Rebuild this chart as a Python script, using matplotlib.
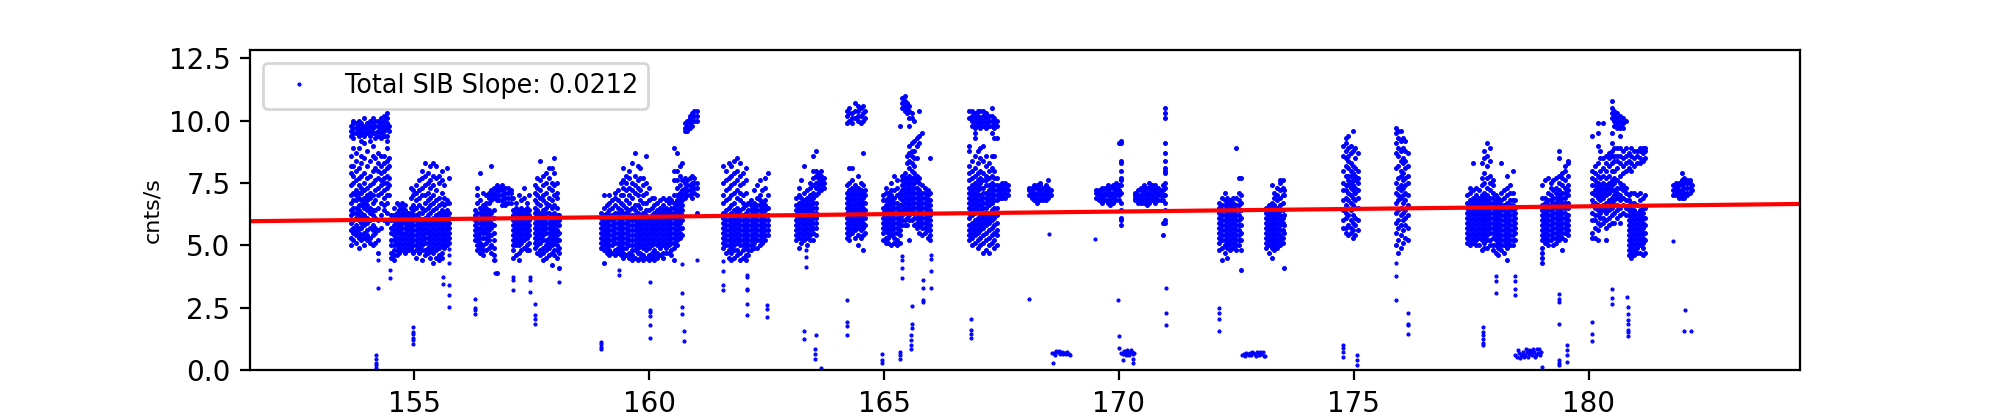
import matplotlib
matplotlib.use('Agg')
import matplotlib.pyplot as plt

# values, one dict per observing block: {time: [rates]}
block_a = {
    153.64: [5.0, 5.3, 5.6, 5.9, 6.2, 6.4, 6.7, 7.0, 7.4, 7.9, 8.2, 8.6, 9.4, 9.6, 9.8],
    153.69: [5.2, 5.5, 5.7, 6.0, 6.3, 6.5, 6.8, 7.1, 7.5, 7.8, 8.2, 8.9, 9.3, 9.5, 9.7, 9.9, 10.0],
    153.75: [5.1, 5.4, 5.6, 5.8, 6.1, 6.3, 6.5, 6.8, 7.0, 7.2, 7.6, 8.0, 8.4, 8.7, 9.5, 9.7, 9.9],
    153.81: [4.9, 5.3, 5.5, 5.7, 6.0, 6.2, 6.4, 6.6, 6.9, 7.1, 7.4, 7.7, 8.1, 8.9, 9.4, 9.6, 9.8, 10.0],
    153.87: [5.2, 5.4, 5.7, 5.9, 6.1, 6.3, 6.6, 6.8, 7.1, 7.3, 7.8, 8.3, 8.6, 9.2, 9.5, 9.7, 9.9],
    153.93: [5.0, 5.3, 5.5, 5.8, 6.0, 6.2, 6.5, 6.7, 6.9, 7.2, 7.5, 7.9, 8.5, 9.1, 9.4, 9.6, 9.8, 10.1],
    153.99: [5.2, 5.4, 5.6, 5.9, 6.1, 6.4, 6.6, 6.8, 7.0, 7.3, 7.7, 8.2, 8.8, 9.5, 9.7, 9.9],
    154.05: [5.1, 5.3, 5.7, 6.0, 6.3, 6.5, 6.9, 7.1, 7.4, 7.8, 8.4, 9.2, 9.4, 9.6, 9.8, 10.0],
    154.11: [5.0, 5.4, 5.6, 5.8, 6.2, 6.4, 6.7, 7.0, 7.5, 8.0, 8.6, 9.0, 9.5, 9.7, 9.9, 10.1],
    154.17: [5.1, 5.5, 5.7, 6.1, 6.4, 6.8, 7.2, 7.6, 8.1, 8.5, 9.3, 9.5, 9.8, 10.0],
    154.23: [4.7, 5.2, 5.6, 6.0, 6.5, 7.0, 7.3, 7.7, 8.0, 8.3, 8.7, 9.4, 9.6, 9.8, 10.0],
    154.29: [5.7, 6.2, 6.7, 7.1, 7.4, 7.6, 7.9, 8.2, 8.6, 9.3, 9.5, 9.7, 9.9, 10.1],
    154.35: [6.0, 6.4, 6.6, 6.9, 7.2, 7.5, 7.7, 8.0, 8.3, 8.6, 9.4, 9.6, 9.8, 10.0, 10.2],
    154.41: [5.9, 6.3, 6.7, 7.0, 7.3, 7.5, 7.8, 8.1, 8.4, 8.9, 9.2, 9.4, 9.7, 9.9, 10.1, 10.3],
    154.46: [7.0, 7.4, 7.7, 8.2, 8.5, 9.6, 9.8],
}
block_b = {
    154.50: [4.5, 4.7, 5.0, 5.2, 5.5, 5.7, 6.0, 6.2],
    154.56: [4.4, 4.6, 4.8, 5.0, 5.2, 5.4, 5.6, 5.8, 6.0, 6.2, 6.5],
    154.62: [4.6, 4.8, 5.0, 5.1, 5.3, 5.5, 5.7, 5.9, 6.1, 6.3, 6.7],
    154.68: [4.7, 4.9, 5.1, 5.3, 5.5, 5.6, 5.8, 6.0, 6.2, 6.4, 6.6],
    154.74: [4.8, 5.0, 5.2, 5.4, 5.5, 5.7, 5.9, 6.1, 6.3, 6.5, 6.7],
    154.80: [4.7, 4.9, 5.1, 5.3, 5.5, 5.7, 5.9, 6.0, 6.2, 6.4, 6.6],
    154.86: [4.8, 5.0, 5.2, 5.4, 5.6, 5.8, 6.0, 6.2, 6.3],
    154.92: [4.8, 4.9, 5.1, 5.3, 5.5, 5.7, 5.9, 6.1, 6.3, 6.5, 6.9, 7.3],
    154.98: [4.7, 5.0, 5.2, 5.4, 5.6, 5.8, 6.0, 6.2, 6.4, 6.6, 7.0, 7.2],
    155.04: [4.5, 4.8, 5.0, 5.2, 5.4, 5.6, 5.8, 6.0, 6.2, 6.5, 6.8, 7.1, 7.4],
    155.10: [4.7, 4.9, 5.1, 5.3, 5.5, 5.7, 5.9, 6.1, 6.3, 6.6, 6.9, 7.2, 7.6],
    155.16: [4.4, 4.8, 5.0, 5.2, 5.4, 5.6, 5.8, 6.0, 6.3, 6.5, 7.0, 7.3, 7.7, 8.0],
    155.22: [4.6, 4.8, 5.1, 5.3, 5.5, 5.7, 5.9, 6.1, 6.4, 6.7, 7.0, 7.4, 7.8, 8.3],
    155.28: [4.7, 4.9, 5.1, 5.3, 5.5, 5.6, 5.8, 6.0, 6.2, 6.5, 6.8, 7.1, 7.5, 7.9],
    155.34: [4.5, 4.8, 5.0, 5.2, 5.4, 5.6, 5.8, 6.0, 6.3, 6.6, 6.9, 7.3, 7.6, 8.2],
    155.40: [4.3, 4.7, 4.9, 5.1, 5.3, 5.5, 5.7, 5.9, 6.1, 6.4, 6.7, 7.0, 7.4, 7.8, 8.3],
    155.46: [4.5, 4.8, 5.0, 5.2, 5.4, 5.6, 5.8, 6.0, 6.2, 6.5, 6.8, 7.2, 7.7, 8.2],
    155.52: [4.4, 4.6, 4.9, 5.1, 5.3, 5.5, 5.7, 5.9, 6.1, 6.3, 6.6, 6.9, 7.5, 7.8],
    155.58: [4.5, 4.7, 5.0, 5.2, 5.4, 5.6, 5.8, 6.0, 6.2, 6.4, 6.7, 7.1, 7.6, 8.0],
    155.64: [4.9, 5.1, 5.3, 5.5, 5.7, 5.9, 6.1, 6.3, 6.6, 6.9, 7.4],
    155.69: [5.0, 5.2, 5.4, 5.6, 5.8, 6.0, 6.2, 6.4, 6.7, 6.8, 8.1],
    155.74: [5.1, 5.3, 5.5, 5.7, 5.9, 6.1, 6.3, 6.7, 7.7],
}
block_c = {
    156.29: [5.2, 5.4, 5.6, 5.8, 6.0, 6.2, 6.4],
    156.34: [4.8, 5.0, 5.2, 5.4, 5.6, 5.7, 5.9, 6.1, 6.3, 6.7, 7.0, 7.3],
    156.40: [4.7, 4.9, 5.1, 5.3, 5.5, 5.7, 5.9, 6.1, 6.3, 6.5, 6.8, 7.9],
    156.46: [4.6, 4.8, 5.0, 5.3, 5.5, 5.6, 5.8, 6.0, 6.2, 6.4, 6.6, 7.1],
    156.52: [4.8, 5.1, 5.3, 5.5, 5.7, 5.9, 6.1, 6.3, 6.5, 6.7, 7.0],
    156.58: [4.9, 5.2, 5.4, 5.6, 5.8, 6.0, 6.2, 6.4, 6.7, 6.9, 7.1],
    156.64: [4.7, 5.0, 5.4, 5.7, 5.9, 6.1, 6.3, 6.8, 7.0, 7.2, 8.2],
    156.70: [4.4, 4.6, 4.9, 5.2, 5.5, 5.8, 6.1, 6.4, 6.9, 7.1, 7.3],
    156.75: [3.9, 6.8, 7.0, 7.2, 7.4],
    156.81: [6.8, 7.0, 7.2, 7.3],
    156.87: [6.6, 6.8, 7.0, 7.2, 7.4],
    156.93: [6.6, 6.7, 6.9, 7.1, 7.3],
    156.99: [6.7, 6.9, 7.1, 7.3],
    157.05: [6.7, 6.9, 7.1, 7.2],
}
block_d = {
    157.10: [4.5, 4.8, 5.0, 5.2, 5.4, 5.6, 5.8, 6.0, 6.2, 6.4, 6.9],
    157.16: [4.6, 5.0, 5.1, 5.3, 5.5, 5.7, 5.9, 6.1, 6.3, 6.5, 6.7],
    157.22: [4.4, 4.7, 5.0, 5.2, 5.4, 5.6, 5.8, 6.0, 6.2, 6.4, 7.0],
    157.28: [4.8, 5.1, 5.3, 5.5, 5.7, 5.9, 6.1, 6.3, 6.5, 6.8],
    157.34: [4.9, 5.2, 5.4, 5.6, 5.8, 6.0, 6.2, 6.4, 6.9, 7.3],
    157.40: [4.8, 5.0, 5.3, 5.5, 5.7, 5.9, 6.1, 6.3, 6.5, 6.7],
    157.45: [4.8, 5.1, 5.4, 5.6, 5.8, 6.0, 6.2, 6.4, 7.0],
}
block_e = {
    157.56: [4.9, 5.1, 5.3, 5.5, 5.7, 5.9, 6.1, 6.3, 6.5, 6.8, 7.1, 7.4],
    157.62: [4.7, 5.0, 5.2, 5.4, 5.6, 5.8, 6.0, 6.2, 6.4, 6.7, 7.0, 7.3, 7.7],
    157.68: [4.6, 4.8, 5.1, 5.3, 5.5, 5.7, 5.9, 6.1, 6.3, 6.6, 6.9, 7.2, 7.6, 8.4],
    157.74: [4.4, 4.7, 4.9, 5.2, 5.4, 5.6, 5.8, 6.0, 6.2, 6.4, 6.8, 7.0, 7.4, 7.8],
    157.80: [4.5, 4.8, 5.0, 5.2, 5.5, 5.7, 5.9, 6.1, 6.3, 6.5, 6.7, 7.1, 7.5, 7.9],
    157.86: [4.6, 4.9, 5.1, 5.3, 5.5, 5.7, 5.9, 6.1, 6.3, 6.6, 6.9, 7.3, 7.7, 8.1],
    157.92: [4.2, 4.7, 5.0, 5.2, 5.4, 5.6, 5.8, 6.0, 6.2, 6.5, 6.8, 7.2, 7.5, 8.1],
    157.98: [4.6, 4.8, 5.1, 5.3, 5.5, 5.7, 5.9, 6.1, 6.3, 6.6, 7.0, 7.4, 7.9, 8.5],
    158.04: [4.5, 4.8, 5.0, 5.2, 5.4, 5.6, 5.8, 6.0, 6.2, 6.5, 6.9, 7.1, 7.5],
    158.08: [4.1, 4.7, 4.9, 5.2, 5.5, 5.8, 6.0, 6.2],
}
block_f = {
    158.97: [4.9, 5.1, 5.3, 5.5, 5.7, 5.9, 6.1, 6.3],
    159.03: [4.3, 4.8, 5.0, 5.2, 5.4, 5.6, 5.8, 6.0, 6.2, 6.5, 7.0],
    159.09: [4.7, 4.9, 5.1, 5.3, 5.5, 5.7, 5.9, 6.1, 6.3, 6.6],
    159.15: [4.6, 4.8, 5.0, 5.2, 5.4, 5.6, 5.8, 6.0, 6.2, 6.4, 6.7, 7.0],
    159.21: [4.7, 5.0, 5.2, 5.4, 5.6, 5.8, 6.0, 6.2, 6.5, 6.8],
    159.27: [4.6, 4.8, 5.1, 5.3, 5.5, 5.7, 5.9, 6.1, 6.3, 6.6, 6.9, 7.1],
    159.33: [4.7, 4.9, 5.1, 5.3, 5.5, 5.7, 5.9, 6.1, 6.3, 6.5, 6.8, 7.2],
    159.39: [4.6, 4.8, 5.0, 5.2, 5.4, 5.6, 5.8, 6.0, 6.2, 6.4, 6.7, 7.0, 7.5],
    159.45: [4.5, 4.7, 4.9, 5.1, 5.3, 5.5, 5.7, 5.9, 6.1, 6.3, 6.6, 7.0, 7.3, 7.6, 8.1],
    159.51: [4.6, 4.9, 5.1, 5.3, 5.5, 5.7, 5.9, 6.1, 6.3, 6.5, 6.8, 7.2, 7.5, 7.8],
    159.57: [4.5, 4.7, 5.0, 5.2, 5.4, 5.6, 5.8, 6.0, 6.2, 6.4, 6.7, 7.0, 7.3, 7.7, 8.0],
    159.63: [4.4, 4.6, 4.8, 5.0, 5.2, 5.4, 5.6, 5.8, 6.0, 6.2, 6.5, 6.9, 7.2, 7.5, 8.3],
    159.69: [4.5, 4.8, 5.0, 5.2, 5.4, 5.6, 5.8, 6.0, 6.2, 6.4, 6.6, 7.1, 7.4, 7.8, 8.7],
    159.75: [4.4, 4.7, 4.9, 5.1, 5.3, 5.5, 5.7, 5.9, 6.1, 6.3, 6.6, 7.0, 7.3, 7.6, 8.2],
    159.81: [4.5, 4.7, 5.0, 5.2, 5.4, 5.6, 5.8, 6.0, 6.2, 6.5, 6.8, 7.2, 7.7, 8.1],
    159.87: [4.4, 4.6, 4.9, 5.1, 5.3, 5.5, 5.7, 5.9, 6.1, 6.3, 6.7, 7.0, 7.4, 7.7],
    159.93: [4.5, 4.8, 5.0, 5.2, 5.4, 5.6, 5.8, 6.0, 6.2, 6.4, 6.7, 7.1, 7.5, 8.6],
    159.99: [4.4, 4.6, 4.9, 5.1, 5.3, 5.5, 5.7, 5.9, 6.1, 6.4, 6.8, 7.3],
    160.05: [4.5, 4.7, 5.0, 5.2, 5.4, 5.6, 5.8, 6.0, 6.2, 6.5, 6.9],
    160.11: [4.4, 4.6, 4.8, 5.1, 5.3, 5.5, 5.7, 5.9, 6.1, 6.3, 6.6, 6.9],
    160.17: [4.5, 4.7, 5.0, 5.2, 5.4, 5.6, 5.8, 6.0, 6.2, 6.4, 6.7],
    160.23: [4.6, 4.9, 5.1, 5.3, 5.5, 5.7, 5.9, 6.1, 6.3, 6.5, 6.8],
    160.29: [4.5, 4.7, 5.0, 5.2, 5.4, 5.6, 5.8, 6.0, 6.2, 6.4, 6.6, 6.9],
    160.35: [4.7, 4.9, 5.1, 5.3, 5.5, 5.7, 5.9, 6.1, 6.3, 6.5, 6.8],
    160.41: [4.7, 5.0, 5.2, 5.4, 5.6, 5.8, 6.0, 6.2, 6.4, 6.7, 6.9],
    160.47: [4.6, 4.8, 5.1, 5.3, 5.5, 5.7, 5.9, 6.1, 6.3, 6.5, 6.8],
    160.53: [4.4, 4.9, 5.1, 5.3, 5.5, 5.7, 5.9, 6.1, 6.3, 6.5, 6.7, 7.0, 7.6, 8.0, 8.9],
    160.59: [5.0, 5.2, 5.4, 5.6, 5.8, 6.0, 6.2, 6.4, 6.6, 6.8, 7.0, 7.3, 7.6, 8.0, 8.7],
    160.65: [5.3, 5.5, 5.7, 5.9, 6.1, 6.3, 6.5, 6.7, 6.9, 7.1, 7.4, 7.8, 8.2],
    160.70: [5.4, 5.7, 6.0, 6.2, 6.4, 6.6, 6.8, 7.0, 7.2, 7.6, 8.3],
}
block_f_tail = {
    160.76: [6.9, 7.1, 7.3, 7.5, 7.7, 9.6, 9.7, 9.9],
    160.81: [7.0, 7.2, 7.4, 7.6, 9.6, 9.8, 10.0],
    160.86: [7.0, 7.2, 7.4, 7.7, 9.7, 9.9, 10.1, 10.2],
    160.91: [6.9, 7.1, 7.3, 7.5, 7.8, 9.8, 10.0, 10.2, 10.3],
    160.96: [7.1, 7.3, 7.5, 7.7, 10.0, 10.2, 10.4],
    161.01: [6.3, 7.0, 7.3, 7.5, 10.0, 10.2, 10.4],
}
block_g = {
    161.57: [4.9, 5.1, 5.3, 5.5, 5.7, 5.9, 6.1, 6.3, 6.7, 7.0, 7.5, 8.2],
    161.63: [4.7, 5.0, 5.2, 5.4, 5.6, 5.8, 6.0, 6.2, 6.4, 6.8, 7.2, 7.6, 8.0],
    161.69: [4.5, 4.8, 5.0, 5.2, 5.4, 5.6, 5.8, 6.0, 6.2, 6.5, 6.9, 7.3, 7.7, 8.3],
    161.75: [4.4, 4.7, 4.9, 5.1, 5.3, 5.5, 5.7, 5.9, 6.1, 6.3, 6.6, 7.0, 7.4, 7.8, 8.2],
    161.81: [4.5, 4.8, 5.0, 5.2, 5.4, 5.6, 5.8, 6.0, 6.2, 6.4, 6.7, 7.1, 7.5, 7.9, 8.4],
    161.87: [4.6, 4.8, 5.1, 5.3, 5.5, 5.7, 5.9, 6.1, 6.3, 6.5, 6.9, 7.2, 7.6, 8.0, 8.5],
    161.93: [4.4, 4.7, 5.0, 5.2, 5.4, 5.6, 5.8, 6.0, 6.2, 6.4, 6.8, 7.1, 7.4, 7.8, 8.3],
    161.99: [4.5, 4.8, 5.0, 5.2, 5.4, 5.6, 5.8, 6.0, 6.2, 6.5, 6.7, 7.0, 7.5, 7.9],
    162.05: [4.4, 4.6, 4.9, 5.1, 5.3, 5.5, 5.7, 5.9, 6.1, 6.3, 6.6, 7.1, 7.6, 8.1],
    162.11: [4.6, 4.8, 5.0, 5.2, 5.4, 5.6, 5.8, 6.0, 6.2, 6.4, 6.7],
    162.17: [4.8, 5.0, 5.2, 5.4, 5.6, 5.8, 6.0, 6.2, 6.4, 6.6, 6.8],
    162.23: [4.9, 5.1, 5.3, 5.5, 5.7, 5.9, 6.1, 6.3, 6.5, 6.7, 7.2],
    162.29: [4.9, 5.2, 5.4, 5.6, 5.8, 6.0, 6.2, 6.4, 6.6, 6.9, 7.4],
    162.35: [5.0, 5.2, 5.4, 5.6, 5.8, 6.0, 6.2, 6.4, 6.6, 6.8, 7.0, 7.6],
    162.41: [5.1, 5.3, 5.5, 5.7, 5.9, 6.1, 6.3, 6.5, 6.7, 7.2],
    162.47: [5.2, 5.4, 5.6, 5.8, 6.0, 6.2, 6.4, 6.6, 6.8, 7.3, 7.7],
    162.52: [5.4, 5.6, 5.8, 6.0, 6.2, 6.5, 7.0, 7.9],
}
block_h = {
    163.12: [5.2, 5.4, 5.6, 5.8, 6.0, 6.2, 6.4, 6.6, 6.9],
    163.18: [4.9, 5.3, 5.5, 5.7, 5.9, 6.1, 6.3, 6.5, 6.7, 7.0, 7.3],
    163.24: [5.1, 5.3, 5.5, 5.7, 5.9, 6.1, 6.3, 6.5, 6.7, 6.9, 7.6],
    163.30: [5.2, 5.4, 5.6, 5.8, 6.0, 6.2, 6.4, 6.6, 6.8, 7.1, 8.2],
    163.36: [5.0, 5.3, 5.5, 5.7, 5.9, 6.1, 6.3, 6.5, 6.7, 6.9, 7.2],
    163.42: [5.2, 5.4, 5.6, 5.8, 6.0, 6.2, 6.4, 6.6, 6.8, 7.0, 7.3, 7.5],
    163.48: [5.2, 5.5, 5.7, 5.9, 6.1, 6.3, 6.5, 6.7, 6.9, 7.1, 7.4, 7.7, 8.0, 8.6],
    163.54: [5.4, 5.7, 5.9, 6.1, 6.3, 6.5, 6.7, 7.0, 7.3, 7.5, 7.8, 8.0, 8.8],
    163.60: [7.1, 7.3, 7.5, 7.7, 7.9],
    163.66: [7.2, 7.4, 7.6, 7.8, 8.0],
    163.71: [7.3, 7.5, 7.7],
}
block_i = {
    164.20: [5.3, 5.5, 5.7, 5.9, 6.1, 6.3, 6.5, 6.7, 6.9, 7.1, 7.4, 9.9, 10.2, 10.4],
    164.26: [5.2, 5.4, 5.6, 5.8, 6.0, 6.2, 6.4, 6.6, 6.8, 7.0, 7.2, 7.5, 8.1, 10.0, 10.3, 10.5],
    164.32: [5.5, 5.7, 5.9, 6.1, 6.3, 6.5, 6.7, 6.9, 7.1, 7.3, 7.6, 8.1, 9.9, 10.1, 10.3],
    164.38: [5.3, 5.6, 5.8, 6.0, 6.2, 6.4, 6.6, 6.8, 7.0, 7.2, 7.4, 10.1, 10.4, 10.7],
    164.44: [5.0, 5.4, 5.7, 5.9, 6.1, 6.3, 6.5, 6.7, 6.9, 7.1, 7.3, 7.8, 10.0, 10.2, 10.4, 10.6],
    164.50: [5.3, 5.6, 5.8, 6.0, 6.2, 6.4, 6.6, 6.8, 7.0, 7.2, 7.5, 9.9, 10.2, 10.5],
    164.56: [4.8, 5.4, 5.7, 5.9, 6.1, 6.3, 6.5, 6.7, 6.9, 7.1, 7.4, 8.7, 10.0, 10.3, 10.6],
    164.60: [5.5, 5.8, 6.1, 6.4, 6.7, 7.0, 7.2, 10.1, 10.4],
}
block_jk = {
    164.97: [5.2, 5.5, 5.7, 5.9, 6.1, 6.3, 6.5, 6.8, 7.0],
    165.03: [5.1, 5.3, 5.6, 5.8, 6.0, 6.2, 6.4, 6.6, 6.8, 7.1, 7.3],
    165.09: [5.1, 5.3, 5.5, 5.7, 5.9, 6.1, 6.3, 6.5, 6.7, 6.9, 7.1],
    165.15: [5.0, 5.4, 5.6, 5.8, 6.0, 6.2, 6.4, 6.6, 6.8, 7.0, 7.2, 7.5],
    165.21: [5.1, 5.3, 5.5, 5.7, 5.9, 6.1, 6.3, 6.5, 6.7, 6.9, 7.2, 7.8],
    165.27: [5.0, 5.2, 5.5, 5.7, 5.9, 6.1, 6.3, 6.5, 6.7, 7.0, 7.3, 7.6],
    165.33: [5.1, 5.4, 5.6, 5.8, 6.0, 6.2, 6.4, 6.6, 6.9, 7.1, 9.8],
    165.39: [5.8, 6.0, 6.2, 6.4, 6.6, 6.8, 7.0, 7.2, 7.4, 7.6, 7.8, 10.5, 10.7, 10.9],
    165.44: [5.8, 6.0, 6.3, 6.5, 6.7, 6.9, 7.1, 7.3, 7.5, 7.7, 7.9, 10.4, 10.6, 10.8, 11.0],
    165.49: [5.8, 6.1, 6.3, 6.5, 6.7, 6.9, 7.1, 7.3, 7.5, 7.7, 8.3, 8.6, 10.3, 10.5, 10.7],
    165.54: [5.2, 6.0, 6.2, 6.4, 6.6, 6.8, 7.0, 7.2, 7.4, 7.6, 7.8, 8.1, 8.4, 8.7, 9.0, 9.8, 10.1, 10.4, 10.6],
    165.59: [6.0, 6.3, 6.5, 6.7, 6.9, 7.1, 7.3, 7.5, 7.7, 8.0, 8.3, 8.6, 8.8, 9.1, 10.1, 10.3],
    165.64: [5.8, 6.1, 6.3, 6.5, 6.7, 6.9, 7.1, 7.3, 7.5, 7.7, 7.9, 8.2, 8.5, 8.8, 9.2, 10.0],
    165.69: [5.7, 5.9, 6.1, 6.3, 6.5, 6.7, 6.9, 7.1, 7.3, 7.6, 7.8, 8.5, 9.0, 9.3],
    165.75: [5.5, 5.8, 6.0, 6.2, 6.4, 6.6, 6.8, 7.0, 7.2, 7.5, 7.7, 9.1, 9.4, 10.4],
    165.81: [5.4, 5.7, 5.9, 6.1, 6.3, 6.5, 6.7, 6.9, 7.1, 7.4, 9.5],
    165.87: [5.5, 5.7, 5.9, 6.1, 6.3, 6.5, 6.7, 6.9, 7.1, 7.3],
    165.93: [5.3, 5.6, 5.8, 6.0, 6.2, 6.4, 6.6, 6.8, 7.0, 7.2],
    165.98: [5.2, 5.4, 5.6, 5.8, 6.0, 6.2, 6.4, 6.6, 6.8, 7.1, 8.5],
}
block_l = {
    166.81: [5.2, 5.4, 5.6, 5.8, 6.1, 6.3, 6.5, 6.7, 6.9, 7.1, 7.3, 7.6, 7.9, 8.2, 8.8, 9.0, 10.1, 10.4],
    166.87: [5.0, 5.3, 5.5, 5.7, 5.9, 6.2, 6.4, 6.6, 6.8, 7.0, 7.2, 7.4, 7.7, 8.0, 8.4, 9.8, 10.0, 10.2, 10.4],
    166.93: [5.1, 5.4, 5.6, 5.8, 6.0, 6.3, 6.5, 6.7, 6.9, 7.1, 7.3, 7.5, 7.8, 8.1, 8.6, 9.3, 9.5, 9.7, 9.9, 10.1, 10.3],
    166.99: [4.9, 5.2, 5.5, 5.7, 5.9, 6.1, 6.4, 6.6, 6.8, 7.0, 7.2, 7.4, 7.6, 7.9, 8.3, 8.8, 9.8, 10.0, 10.2, 10.4],
    167.05: [5.0, 5.3, 5.6, 5.8, 6.0, 6.2, 6.4, 6.6, 6.8, 7.0, 7.3, 7.5, 7.7, 8.0, 8.5, 8.9, 9.7, 9.9, 10.1, 10.4],
    167.11: [4.7, 5.1, 5.4, 5.7, 5.9, 6.1, 6.3, 6.5, 6.7, 6.9, 7.1, 7.3, 7.6, 7.9, 8.4, 9.0, 9.8, 10.0, 10.2, 10.4],
    167.17: [4.8, 5.2, 5.5, 5.8, 6.0, 6.2, 6.5, 6.7, 6.9, 7.1, 7.4, 7.6, 7.8, 8.2, 8.6, 9.7, 9.9, 10.1, 10.3],
    167.23: [4.7, 5.0, 5.3, 5.6, 5.9, 6.1, 6.3, 6.6, 6.8, 7.0, 7.2, 7.4, 7.7, 8.0, 8.3, 9.8, 10.0, 10.2],
    167.29: [5.1, 5.4, 5.7, 6.0, 6.2, 6.4, 6.7, 6.9, 7.1, 7.3, 7.5, 7.8, 8.1, 8.6, 9.5, 9.8, 10.0, 10.2, 10.5],
    167.35: [4.9, 5.2, 5.5, 5.8, 6.1, 6.3, 6.5, 6.8, 7.0, 7.2, 7.4, 7.7, 8.0, 8.6, 9.3, 9.7, 9.9, 10.1],
    167.40: [5.0, 5.4, 5.6, 5.9, 6.2, 6.5, 6.8, 7.0, 7.2, 7.4, 7.7, 9.3, 9.8, 10.0],
    167.46: [6.9, 7.1, 7.3, 7.4],
    167.52: [6.9, 7.0, 7.2, 7.4, 7.5],
    167.58: [6.9, 7.1, 7.3, 7.5],
    167.64: [7.0, 7.2, 7.4],
}
block_m = {
    168.08: [7.0, 7.2, 7.3],
    168.14: [6.9, 7.0, 7.1, 7.3],
    168.20: [6.8, 7.0, 7.1, 7.3, 7.4],
    168.26: [6.7, 6.9, 7.1, 7.3, 7.4],
    168.32: [6.8, 7.0, 7.2, 7.4, 7.5],
    168.38: [6.8, 6.9, 7.1, 7.3],
    168.44: [6.8, 7.0, 7.2, 7.4],
    168.50: [6.9, 7.1, 7.3, 7.6],
    168.55: [7.0, 7.2],
}
block_o = {
    169.52: [6.9, 7.1, 7.2],
    169.58: [6.8, 7.0, 7.1, 7.2],
    169.64: [6.7, 6.9, 7.0, 7.2, 7.3],
    169.70: [6.8, 7.0, 7.1, 7.3],
    169.76: [6.7, 6.8, 7.0, 7.2, 7.4],
    169.82: [6.6, 6.8, 7.0, 7.1, 7.3],
    169.88: [6.7, 6.9, 7.1, 7.3, 7.4],
    169.94: [6.8, 7.0, 7.2, 7.3, 7.5],
    170.00: [6.8, 7.0, 7.1, 7.2, 7.4, 9.1],
    170.05: [5.8, 6.0, 6.1, 6.4, 6.7, 7.1, 7.4, 7.6, 7.7, 8.0, 8.3, 8.4, 9.1, 9.2],
}
block_p = {
    170.35: [6.8, 6.9, 7.0, 7.1],
    170.41: [6.7, 6.9, 7.0, 7.2],
    170.47: [6.7, 6.8, 7.0, 7.2, 7.3],
    170.53: [6.7, 6.9, 7.1, 7.2, 7.4],
    170.59: [6.6, 6.8, 7.0, 7.1, 7.3],
    170.65: [6.7, 6.9, 7.1, 7.3, 7.5],
    170.71: [6.8, 7.0, 7.2, 7.3, 7.4],
    170.77: [6.7, 6.9, 7.1, 7.2, 7.4],
    170.83: [6.8, 7.0, 7.1, 7.3],
    170.89: [6.8, 7.0, 7.2],
    170.94: [5.4, 5.9, 6.8, 7.0, 7.2, 7.4],
    170.98: [5.9, 6.0, 6.4, 6.7, 7.0, 7.3, 7.5, 7.9, 8.0, 8.1, 8.4, 8.7, 9.1, 10.1, 10.3, 10.5],
}
block_q = {
    172.13: [4.8, 5.1, 5.3, 5.5, 5.7, 5.9, 6.1, 6.3, 6.5, 6.7],
    172.19: [4.4, 4.9, 5.2, 5.4, 5.6, 5.8, 6.0, 6.2, 6.4, 6.6, 6.9],
    172.25: [4.7, 5.0, 5.2, 5.4, 5.6, 5.8, 6.0, 6.2, 6.4, 6.6, 6.8, 7.1],
    172.31: [4.5, 4.9, 5.1, 5.3, 5.5, 5.7, 5.9, 6.1, 6.3, 6.5, 6.7, 6.9],
    172.37: [4.8, 5.0, 5.2, 5.4, 5.6, 5.8, 6.0, 6.2, 6.4, 6.6, 6.8],
    172.43: [4.9, 5.1, 5.3, 5.5, 5.7, 5.9, 6.1, 6.3, 6.5, 6.7, 6.9],
    172.49: [4.8, 5.0, 5.2, 5.4, 5.6, 5.8, 6.0, 6.2, 6.4, 6.6, 6.9, 8.9],
    172.55: [5.0, 5.2, 5.4, 5.6, 5.8, 6.0, 6.2, 6.4, 6.6, 6.8, 7.1, 7.7],
    172.60: [4.0, 4.8, 5.2, 5.5, 5.8, 6.1, 6.4, 6.7, 7.0, 7.7],
}
block_s = {
    173.13: [4.9, 5.1, 5.3, 5.5, 5.7, 5.9, 6.1, 6.3, 6.5],
    173.19: [4.7, 5.0, 5.2, 5.4, 5.6, 5.8, 6.0, 6.2, 6.4, 6.6],
    173.25: [4.5, 4.9, 5.1, 5.3, 5.5, 5.7, 5.9, 6.1, 6.3, 6.5, 6.7, 7.4],
    173.31: [4.8, 5.0, 5.2, 5.4, 5.6, 5.8, 6.0, 6.2, 6.4, 6.6, 6.9, 7.1],
    173.37: [4.9, 5.1, 5.3, 5.5, 5.7, 5.9, 6.1, 6.3, 6.5, 6.8, 7.0, 7.3],
    173.43: [5.0, 5.2, 5.4, 5.6, 5.8, 6.0, 6.2, 6.4, 6.6, 6.9, 7.2, 7.5, 7.6],
    173.49: [5.1, 5.3, 5.6, 5.9, 6.1, 6.4, 6.7, 7.0, 7.3, 7.6],
    173.52: [4.1, 5.5, 5.8, 6.2, 7.0, 7.2],
}
block_t = {
    174.78: [5.7, 6.0, 6.4, 6.8, 7.2, 7.5, 8.0, 8.6, 9.0],
    174.83: [5.5, 5.7, 6.1, 6.3, 6.6, 6.9, 7.2, 7.4, 7.8, 8.2, 8.5, 8.8, 9.1, 9.3],
    174.88: [5.4, 5.8, 6.2, 6.5, 6.8, 7.1, 7.4, 7.6, 7.8, 8.1, 8.4, 8.6, 8.9, 9.4],
    174.93: [5.5, 5.7, 6.0, 6.4, 6.7, 7.0, 7.3, 7.5, 7.8, 8.0, 8.3, 8.7, 9.0],
    174.98: [5.3, 5.6, 5.9, 6.2, 6.6, 6.9, 7.2, 7.4, 7.6, 7.9, 8.2, 8.8, 9.6],
    175.03: [5.4, 5.8, 6.1, 6.5, 6.8, 7.1, 7.3, 7.6, 7.8, 8.1, 8.5, 8.9],
    175.09: [5.6, 6.0, 6.5, 6.9, 7.2, 7.5, 7.7, 8.0, 8.7],
}
block_u = {
    175.90: [5.0, 5.5, 5.9, 6.3, 6.7, 7.1, 7.5, 8.1, 8.7, 9.1, 9.5, 9.7],
    175.95: [4.7, 5.2, 5.7, 6.0, 6.4, 6.8, 7.0, 7.3, 7.7, 8.2, 8.6, 8.9, 9.3, 9.6],
    176.00: [4.9, 5.4, 5.8, 6.2, 6.5, 6.9, 7.2, 7.4, 7.8, 8.0, 8.4, 8.8, 9.2, 9.6],
    176.05: [5.1, 5.6, 6.0, 6.3, 6.7, 7.0, 7.3, 7.6, 7.9, 8.3, 8.5, 8.9, 9.3],
    176.10: [5.3, 5.8, 6.1, 6.4, 6.8, 7.1, 7.4, 7.7, 8.1, 8.4, 8.8, 9.2],
    176.15: [5.2, 5.7, 6.2, 6.6, 7.0, 7.5, 7.8, 8.2, 8.7],
}
block_v = {
    177.42: [5.1, 5.3, 5.5, 5.7, 5.9, 6.1, 6.3, 6.5, 6.7, 7.0],
    177.48: [5.0, 5.2, 5.4, 5.6, 5.8, 6.0, 6.2, 6.4, 6.6, 6.8, 7.1, 7.3],
    177.54: [5.1, 5.3, 5.5, 5.7, 5.9, 6.1, 6.3, 6.5, 6.7, 6.9, 7.2, 8.3],
    177.60: [5.0, 5.2, 5.4, 5.6, 5.8, 6.0, 6.2, 6.4, 6.6, 6.8, 7.0, 7.3],
    177.66: [5.0, 5.3, 5.5, 5.7, 5.9, 6.1, 6.3, 6.5, 6.7, 6.9, 7.2],
    177.72: [4.8, 5.2, 5.4, 5.6, 5.8, 6.0, 6.2, 6.4, 6.6, 6.8, 7.0, 7.4, 7.7, 8.3],
    177.78: [4.9, 5.1, 5.3, 5.5, 5.7, 5.9, 6.1, 6.3, 6.5, 6.7, 6.9, 7.1, 7.5, 7.9, 8.5, 8.8],
    177.84: [4.9, 5.2, 5.4, 5.6, 5.8, 6.0, 6.2, 6.4, 6.6, 6.8, 7.0, 7.3, 7.7, 8.2, 8.6, 9.1],
    177.90: [5.0, 5.2, 5.5, 5.7, 5.9, 6.1, 6.3, 6.5, 6.7, 6.9, 7.2, 7.5, 7.8, 8.4, 8.9],
    177.96: [4.8, 5.0, 5.3, 5.5, 5.7, 5.9, 6.1, 6.3, 6.5, 6.7, 6.9, 7.1, 7.4, 7.6],
    178.02: [4.7, 5.0, 5.2, 5.4, 5.6, 5.8, 6.0, 6.2, 6.4, 6.6, 6.8, 7.0],
    178.08: [4.6, 4.9, 5.1, 5.3, 5.5, 5.7, 5.9, 6.1, 6.3, 6.5, 6.7, 6.9],
    178.14: [4.8, 5.0, 5.2, 5.4, 5.6, 5.8, 6.0, 6.2, 6.4, 6.6, 6.8, 7.1, 8.3],
    178.20: [4.7, 5.0, 5.2, 5.4, 5.6, 5.8, 6.0, 6.2, 6.4, 6.6, 6.9, 7.2],
    178.26: [4.4, 4.9, 5.1, 5.3, 5.5, 5.7, 5.9, 6.1, 6.3, 6.5, 6.7, 7.0, 7.3, 7.8],
    178.32: [5.0, 5.2, 5.4, 5.6, 5.8, 6.0, 6.2, 6.4, 6.6, 6.8, 7.1, 7.4],
    178.38: [5.0, 5.2, 5.4, 5.6, 5.8, 6.0, 6.2, 6.4, 6.6, 6.8, 7.1, 8.0],
    178.44: [5.2, 5.5, 5.7, 5.9, 6.1, 6.3, 6.5, 6.8],
}
block_w = {
    179.01: [4.3, 4.5, 4.7, 4.9, 5.2, 5.4, 5.6, 5.8, 6.0, 6.2, 6.4, 6.6, 6.9, 7.4],
    179.07: [5.1, 5.3, 5.5, 5.7, 5.9, 6.1, 6.3, 6.5, 6.7, 6.9, 7.6],
    179.13: [5.0, 5.2, 5.4, 5.6, 5.8, 6.0, 6.2, 6.4, 6.6, 6.8, 7.1, 7.7],
    179.19: [5.2, 5.4, 5.6, 5.8, 6.0, 6.2, 6.4, 6.6, 6.8, 7.0, 7.3, 7.5],
    179.25: [5.0, 5.3, 5.5, 5.7, 5.9, 6.1, 6.3, 6.5, 6.7, 6.9, 7.2, 7.6],
    179.31: [5.1, 5.3, 5.5, 5.7, 5.9, 6.1, 6.3, 6.5, 6.7, 6.9, 7.1, 7.3, 7.7],
    179.37: [5.2, 5.4, 5.6, 5.8, 6.0, 6.2, 6.4, 6.6, 6.8, 7.0, 7.2, 7.5, 7.8, 8.5, 8.8],
    179.43: [4.8, 5.3, 5.5, 5.7, 5.9, 6.1, 6.3, 6.5, 6.7, 6.9, 7.1, 7.4, 7.7, 7.9],
    179.49: [5.2, 5.5, 5.7, 5.9, 6.1, 6.3, 6.5, 6.7, 6.9, 7.1, 7.3, 7.6, 8.0, 8.2],
    179.55: [5.4, 5.6, 5.8, 6.0, 6.2, 6.5, 6.7, 7.0, 7.2, 7.4, 7.8, 8.3, 8.4],
}
block_x = {
    180.07: [5.3, 5.5, 6.0, 6.3, 6.6, 6.8, 7.1, 7.4, 7.7, 8.0, 9.4],
    180.13: [5.3, 5.7, 6.0, 6.2, 6.5, 6.7, 7.0, 7.2, 7.4, 7.6, 7.9, 8.2],
    180.19: [5.2, 5.6, 5.9, 6.2, 6.4, 6.6, 6.9, 7.1, 7.3, 7.5, 7.8, 8.3, 9.0, 9.5, 9.9],
    180.25: [5.8, 6.1, 6.3, 6.5, 6.8, 7.0, 7.2, 7.4, 7.7, 8.0, 8.5, 8.8],
    180.31: [5.9, 6.1, 6.4, 6.6, 6.9, 7.1, 7.3, 7.5, 7.8, 8.1, 8.5, 9.9],
    180.37: [5.2, 5.7, 6.0, 6.3, 6.5, 6.7, 7.0, 7.2, 7.4, 7.7, 8.0, 8.3, 8.6],
    180.43: [5.8, 6.1, 6.4, 6.6, 6.8, 7.1, 7.3, 7.5, 7.8, 8.2, 8.5, 8.7],
    180.49: [5.9, 6.2, 6.5, 6.7, 6.9, 7.2, 7.4, 7.6, 8.0, 8.3, 8.6, 8.8, 9.1, 9.5, 10.1, 10.3, 10.5, 10.8],
    180.55: [5.9, 6.3, 6.6, 6.8, 7.0, 7.2, 7.5, 7.7, 8.0, 8.4, 8.6, 8.9, 9.8, 10.0, 10.2, 10.4],
    180.61: [6.1, 6.4, 6.6, 6.9, 7.1, 7.3, 7.6, 8.1, 8.4, 8.6, 8.9, 9.7, 9.9, 10.1, 10.3],
    180.67: [5.9, 6.2, 6.5, 6.8, 7.0, 7.3, 7.5, 7.8, 8.3, 8.6, 8.9, 9.4, 9.7, 9.8, 10.0, 10.2],
    180.73: [6.3, 6.6, 6.9, 7.2, 7.4, 7.9, 8.2, 8.5, 8.8, 9.7, 9.9, 10.1],
    180.79: [6.2, 6.5, 6.8, 7.1, 7.3, 8.0, 8.3, 8.6, 8.9, 10.0],
    180.85: [4.6, 4.8, 5.0, 5.2, 5.4, 5.6, 5.8, 6.0, 6.2, 6.4, 6.6, 6.8, 7.0, 8.1, 8.4, 8.7],
    180.91: [4.5, 4.7, 4.9, 5.1, 5.3, 5.5, 5.7, 5.9, 6.1, 6.3, 6.5, 6.7, 7.1, 8.0, 8.3, 8.6, 8.9],
    180.97: [4.6, 4.8, 5.0, 5.2, 5.4, 5.6, 5.8, 6.0, 6.2, 6.4, 6.7, 7.1, 8.2, 8.5, 8.8],
    181.03: [4.7, 4.9, 5.1, 5.3, 5.5, 5.7, 5.9, 6.1, 6.3, 6.6, 7.0, 8.3, 8.6, 8.8],
    181.09: [4.7, 5.0, 5.2, 5.4, 5.6, 5.8, 6.0, 6.2, 6.4, 6.8, 7.1, 8.3, 8.5, 8.8, 8.9],
    181.15: [4.6, 4.9, 5.1, 5.3, 5.5, 5.7, 5.9, 6.1, 6.3, 6.5, 6.9, 8.4, 8.7, 8.9],
    181.20: [4.7, 5.2, 5.5, 5.8, 6.1, 6.5, 7.0, 8.5, 8.8, 8.9],
}
block_y = {
    181.80: [7.0, 7.2, 7.4],
    181.86: [7.0, 7.1, 7.3, 7.4, 7.5],
    181.92: [6.9, 7.1, 7.2, 7.4, 7.5],
    181.98: [6.9, 7.0, 7.2, 7.4, 7.6, 7.9],
    182.04: [6.9, 7.1, 7.3, 7.5, 7.7],
    182.10: [7.0, 7.1, 7.3, 7.5, 7.6],
    182.16: [7.1, 7.3, 7.5, 7.6],
    182.20: [7.2, 7.4],
}
# low count-rate dips and stray points
block_low = {
    154.19: [0.07, 0.2, 0.3, 0.45, 0.6],
    154.23: [3.3, 4.4],
    154.48: [3.7, 4.0],
    154.96: [1.3, 1.55, 1.73],
    154.98: [1.07, 1.2, 1.45],
    155.60: [3.47, 3.73],
    155.74: [2.53, 3.03, 3.43, 4.3, 4.6, 4.87],
    156.29: [2.27, 2.4, 2.5, 2.87],
    156.72: [3.9, 4.4],
    157.10: [3.23, 3.6, 3.73],
    157.46: [3.13, 3.6, 3.73],
    157.57: [1.87, 2.07, 2.2, 2.67],
    158.08: [3.53],
    158.97: [0.87, 0.95, 1.05, 1.13],
    159.35: [3.83, 4.0],
    160.01: [1.3, 1.83, 2.16, 2.33, 2.43, 3.53],
    160.70: [2.27, 2.53, 3.1, 4.27],
    160.74: [1.16, 1.56],
    161.02: [4.43],
    161.58: [3.23, 3.43, 3.96, 4.36],
    162.08: [2.2, 2.67, 3.2, 3.27, 3.73, 3.8],
    162.50: [2.13, 2.47, 2.6],
    163.30: [1.27, 1.56],
    163.33: [4.13, 4.53, 4.8],
    163.53: [0.47, 0.67, 0.87],
    163.55: [1.4],
    163.66: [0.1],
    164.22: [1.43, 1.76, 1.93, 2.8],
    164.96: [0.3, 0.4, 0.64],
    165.33: [0.47, 0.6, 0.73],
    165.39: [3.7, 4.1, 4.43, 4.57],
    165.58: [0.87, 1.0, 1.2, 1.4],
    165.60: [1.7, 1.87, 2.56],
    165.82: [2.73, 2.83, 3.3, 3.6],
    166.00: [3.3, 3.96, 4.47, 4.63],
    166.84: [1.3, 1.47, 1.6, 2.07],
    168.09: [2.87],
    168.52: [5.47],
    168.59: [0.3],
    169.50: [5.27],
    169.99: [2.83],
    170.01: [0.9, 1.36],
    170.09: [0.4],
    170.30: [0.27, 0.47],
    171.00: [1.83, 2.29, 3.3],
    172.13: [1.56, 2.07, 2.29, 2.5],
    174.76: [0.53, 0.75, 0.9, 1.0],
    175.07: [0.2, 0.4, 0.6],
    175.90: [2.83, 3.79, 4.3],
    176.16: [1.47, 1.8, 1.87, 2.3],
    177.75: [1.0, 1.1, 1.25, 1.4, 1.55, 1.73],
    178.03: [3.1, 3.57, 3.77],
    178.44: [3.03, 3.27, 3.57, 3.77],
    179.00: [0.13],
    179.36: [0.2, 0.3, 0.4, 1.87, 2.73, 2.87, 3.07],
    179.54: [0.33, 0.6, 0.8, 1.0],
    180.07: [1.17, 1.47, 1.93],
    180.37: [5.2],
    180.50: [2.67, 2.9, 3.27],
    180.82: [2.93],
    180.84: [1.36, 1.53, 1.63, 1.87, 2.0, 2.27, 2.53],
    181.80: [5.19],
    182.03: [1.56],
    182.05: [2.43],
    182.18: [1.59],
}
# the four little clumps sitting near 0.7 cnts/s
clump_168_x = [168.58, 168.62, 168.66, 168.70, 168.74, 168.78, 168.82, 168.86, 168.90, 168.94, 168.96, 168.64, 168.72, 168.80, 168.88]
clump_168_y = [0.68, 0.70, 0.76, 0.72, 0.67, 0.75, 0.70, 0.68, 0.72, 0.66, 0.62, 0.63, 0.78, 0.64, 0.64]
clump_170_x = [170.04, 170.08, 170.12, 170.16, 170.20, 170.24, 170.28, 170.32, 170.10, 170.18, 170.26, 170.14, 170.22, 170.30]
clump_170_y = [0.70, 0.66, 0.72, 0.68, 0.74, 0.70, 0.72, 0.70, 0.78, 0.80, 0.80, 0.62, 0.62, 0.64]
clump_173_x = [172.62, 172.66, 172.70, 172.74, 172.78, 172.82, 172.86, 172.90, 172.94, 172.98, 173.02, 173.06, 173.10, 172.68, 172.76, 172.84, 172.92, 173.00, 173.08]
clump_173_y = [0.62, 0.66, 0.70, 0.64, 0.68, 0.62, 0.70, 0.66, 0.72, 0.60, 0.66, 0.72, 0.58, 0.58, 0.60, 0.74, 0.58, 0.72, 0.56]
clump_178_x = [178.44, 178.48, 178.52, 178.56, 178.60, 178.64, 178.68, 178.72, 178.76, 178.80, 178.84, 178.88, 178.92, 178.96, 178.50, 178.58, 178.66, 178.74, 178.82, 178.90, 178.98, 178.54, 178.62, 178.70, 178.78, 178.86, 178.94]
clump_178_y = [0.60, 0.55, 0.70, 0.62, 0.75, 0.60, 0.72, 0.64, 0.68, 0.60, 0.74, 0.62, 0.70, 0.60, 0.80, 0.62, 0.84, 0.82, 0.85, 0.85, 0.75, 0.50, 0.52, 0.55, 0.78, 0.53, 0.86]

fit_x = [151.5, 184.5]
fit_y = [5.97, 6.66]
x_ticks = [155, 160, 165, 170, 175, 180]
y_ticks = [0.0, 2.5, 5.0, 7.5, 10.0, 12.5]

blocks = [block_a, block_b, block_c, block_d, block_e, block_f, block_f_tail, block_g,
          block_h, block_i, block_jk, block_l, block_m, block_o, block_p, block_q,
          block_s, block_t, block_u, block_v, block_w, block_x, block_y]


def flatten(groups):
    xs = []
    ys = []
    for group in groups:
        for t, values in group.items():
            xs += [t] * len(values)
            ys += values
    return xs, ys


dense_x, dense_y = flatten(blocks)
low_x, low_y = flatten([block_low])
low_x += clump_168_x + clump_170_x + clump_173_x + clump_178_x
low_y += clump_168_y + clump_170_y + clump_173_y + clump_178_y

fig = plt.figure(figsize=(10, 2.08), dpi=200)
ax = fig.add_axes([0.125, 0.11, 0.775, 0.77])
# dense blocks are sampled coarsely, so those dots are a bit wider to close up
ax.plot(dense_x, dense_y, 'b.', markersize=1.6)
ax.plot(low_x, low_y, 'b.', markersize=1, label='Total SIB Slope: 0.0212')
ax.plot(fit_x, fit_y, color='red')
ax.set_xlim(151.5, 184.5)
ax.set_ylim(0, 12.83)
ax.set_xticks(x_ticks)
ax.set_yticks(y_ticks)
ax.set_ylabel('cnts/s', fontsize=8, labelpad=2.2)
ax.legend(loc='upper left', fontsize=9.2)
fig.savefig('out.png', dpi=200)
